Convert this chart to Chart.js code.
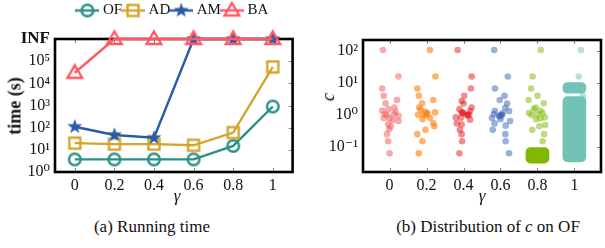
<!DOCTYPE html>
<html lang="en">
<head>
<meta charset="UTF-8">
<title>running time and distribution of c</title>
<script src="https://cdn.jsdelivr.net/npm/chart.js@4.4.1/dist/chart.umd.min.js"></script>
<style>
  body {
    margin: 0;
    width: 605px;
    height: 248px;
    background: #fff;
    position: relative;
    overflow: hidden;
    font-family: "Liberation Serif", "DejaVu Serif", serif;
    color: #111;
  }
  canvas { position: absolute; top: 0; }
  .lbl { position: absolute; transform: translate(-50%, -50%); white-space: nowrap; }
  .rot { transform: translate(-50%, -50%) rotate(-90deg); }
</style>
</head>
<body>
<canvas id="timeChart" width="302" height="200" style="left:0;width:302px;height:200px"></canvas>
<canvas id="cChart" width="303" height="200" style="left:302px;width:303px;height:200px"></canvas>
<div class="lbl rot" style="left:15px;top:106px;font-size:18px;font-weight:bold">time (s)</div>
<div class="lbl rot" style="left:328px;top:97px;font-size:19px;font-style:italic">c</div>
<div class="lbl" style="left:177px;top:196px;font-size:17px;font-style:italic">γ</div>
<div class="lbl" style="left:482px;top:196px;font-size:17px;font-style:italic">γ</div>
<div class="lbl" style="left:152px;top:227px;font-size:17px">(a) Running time</div>
<div class="lbl" style="left:488px;top:227px;font-size:17px">(b) Distribution of <i>c</i> on OF</div>

<script>
  const FONT = '"Liberation Serif", "DejaVu Serif", serif';

  // (a) running time, INF plotted at the top of the axis
  const INF = 1e6;
  const gammas = [0, 0.2, 0.4, 0.6, 0.8, 1];
  const gammaLabels = ['0', '0.2', '0.4', '0.6', '0.8', '1'];
  const timeOF = [3.7, 3.7, 3.7, 3.7, 15, 900];
  const timeAD = [20, 18, 18, 16, 60, 55000];
  const timeAM = [110, 47, 35, INF, INF, INF];
  const timeBA = [30000, INF, INF, INF, INF, INF];
  const timeTicks = [1, 10, 100, 1e3, 1e4, 1e5, INF];
  const timeTickLabels = ['10⁰', '10¹', '10²', '10³', '10⁴', '10⁵', 'INF'];

  // (b) distribution of c, jitter is the horizontal offset
  const jit0 = [-0.18, 0.24, -0.2, -0.16, 0.2, -0.11, 0.13, -0.2, -0.03, 0.16, -0.13, -0.07, 0.11, 0.24, -0.16, 0.0, 0.24, 0.09, -0.04, 0.03, -0.01, -0.07, -0.04, 0.0];
  const val0 = [105, 15.7, 6.6, 3.9, 2.9, 2.3, 1.7, 1.33, 1.5, 1.24, 1.05, 0.98, 1.03, 0.93, 0.8, 0.77, 0.64, 0.68, 0.51, 0.44, 0.36, 0.25, 0.15, 0.063];
  const jit1 = [0.09, 0.24, -0.25, -0.21, 0.18, -0.12, -0.2, -0.16, -0.03, 0.23, -0.23, -0.07, 0.02, -0.11, 0.09, 0.18, 0.21, -0.03, -0.25, -0.11, -0.21, 0.0];
  const val1 = [105, 15.7, 6.6, 3.9, 2.9, 2.3, 1.7, 1.43, 1.24, 1.19, 1.0, 0.98, 1.13, 0.73, 0.81, 0.55, 0.44, 0.34, 0.25, 0.15, 0.063, 1.03];
  const jit2 = [-0.16, 0.22, 0.2, 0.02, -0.05, 0, 0.22, -0.11, 0.18, -0.05, 0.1, 0.15, -0.21, -0.07, 0.18, -0.18, -0.05, -0.1, -0.05, -0.04, -0.11, 0.0, 0.12, -0.03];
  const val2 = [105, 15.7, 6.6, 3.9, 2.7, 2.26, 1.7, 1.5, 1.33, 1.19, 0.98, 1.03, 0.83, 0.81, 0.7, 0.54, 0.5, 0.34, 0.25, 0.15, 0.063, 1.13, 0.95, 1.15];
  const jit3 = [-0.17, 0.2, -0.15, 0.11, -0.02, 0.18, 0.13, 0.23, -0.15, 0.06, -0.18, -0.04, 0.02, -0.23, 0, 0.26, -0.16, 0.14, -0.21, 0.13, 0.14, 0.23, -0.02, 0.04];
  const val3 = [105, 15.7, 6.6, 3.9, 2.9, 2.26, 1.65, 1.3, 1.33, 1.13, 1.05, 0.93, 0.98, 0.79, 0.73, 0.64, 0.54, 0.46, 0.34, 0.25, 0.15, 0.063, 0.9, 1.0];
  const jit4 = [0.09, -0.13, -0.17, 0, -0.24, 0.17, -0.05, -0.1, 0.08, -0.23, 0.14, -0.16, 0, 0.2, -0.04, 0.08, 0.21, 0.05, -0.14, 0.18, 0.14];
  const val4 = [105, 15.7, 6.6, 3.9, 2.9, 2.3, 1.7, 1.5, 1.33, 1.13, 1.13, 0.98, 1.03, 0.83, 0.73, 0.77, 0.48, 0.44, 0.34, 0.25, 0.15];
  const jit5 = [0.18, 0.12, 0.23];
  const val5 = [105, 15.7, 3.9];
  // ranges where the points pile up into a solid block
  const denseX = [4, 5, 5];
  const denseLo = [0.031, 0.034, 4.7];
  const denseHi = [0.096, 3.7, 10.2];
  const cTicks = [0.1, 1, 10, 100];
  const cTickLabels = ['10⁻¹', '10⁰', '10¹', '10²'];

  const markerCanvas = (shape, color, legend) => {
    const c = document.createElement('canvas');
    c.width = legend ? 24 : 20;
    c.height = 20;
    const g = c.getContext('2d');
    const cx = c.width / 2, cy = 10;
    g.strokeStyle = color;
    g.fillStyle = color;
    g.lineWidth = 2.4;
    if (legend) {
      g.beginPath();
      g.moveTo(0, cy);
      g.lineTo(c.width, cy);
      g.stroke();
    }
    g.beginPath();
    if (shape === 'circle') {
      g.arc(cx, cy, 5.8, 0, Math.PI * 2);
      g.stroke();
    } else if (shape === 'square') {
      g.strokeRect(cx - 5.5, cy - 5.5, 11, 11);
    } else if (shape === 'triangle') {
      g.moveTo(cx, cy - 7.5);
      g.lineTo(cx + 7.3, cy + 5);
      g.lineTo(cx - 7.3, cy + 5);
      g.closePath();
      g.stroke();
    } else if (shape === 'star') {
      for (let k = 0; k < 10; k++) {
        const r = k % 2 ? 3.2 : 7.8;
        const a = -Math.PI / 2 + k * Math.PI / 5;
        g.lineTo(cx + r * Math.cos(a), cy + r * Math.sin(a));
      }
      g.closePath();
      g.fill();
    }
    return c;
  };

  // thick box round the plot plus the small inward ticks
  const frame = {
    id: 'frame',
    beforeDatasetsDraw(chart) {
      const { ctx, chartArea: a, scales } = chart;
      ctx.save();
      ctx.strokeStyle = '#888';
      ctx.lineWidth = 1;
      ctx.beginPath();
      scales.x.ticks.forEach((t) => {
        const px = Math.round(scales.x.getPixelForValue(t.value)) + 0.5;
        ctx.moveTo(px, a.bottom);
        ctx.lineTo(px, a.bottom - 4);
        ctx.moveTo(px, a.top);
        ctx.lineTo(px, a.top + 4);
      });
      scales.y.ticks.forEach((t) => {
        const py = Math.round(scales.y.getPixelForValue(t.value)) + 0.5;
        ctx.moveTo(a.right, py);
        ctx.lineTo(a.right - 4, py);
      });
      ctx.stroke();
      ctx.strokeStyle = '#000';
      ctx.lineWidth = 2.6;
      ctx.strokeRect(a.left, a.top, a.right - a.left, a.bottom - a.top);
      ctx.restore();
    }
  };

  const series = [
    { label: 'OF', values: timeOF, color: '#2a8f86', shape: 'circle', order: 3 },
    { label: 'AD', values: timeAD, color: '#d5a52b', shape: 'square', order: 2 },
    { label: 'AM', values: timeAM, color: '#2a5ba8', shape: 'star', order: 1 },
    { label: 'BA', values: timeBA, color: '#ff5a64', shape: 'triangle', order: 0 }
  ];
  const legendIcons = series.map((s) => markerCanvas(s.shape, s.color, true));

  new Chart(document.getElementById('timeChart'), {
    type: 'line',
    data: {
      datasets: series.map((s) => ({
        label: s.label,
        data: gammas.map((g, i) => ({ x: g, y: s.values[i] })),
        borderColor: s.color,
        backgroundColor: s.color,
        borderWidth: 2.4,
        pointStyle: markerCanvas(s.shape, s.color, false),
        pointRadius: 7,
        clip: false,
        order: s.order,
        tension: 0
      }))
    },
    options: {
      responsive: false,
      animation: false,
      layout: { padding: { left: 0, right: 4, top: 0, bottom: 0 } },
      plugins: {
        tooltip: { enabled: false },
        legend: {
          position: 'top',
          fullSize: false,
          labels: {
            usePointStyle: true,
            pointStyleWidth: 16,
            padding: 3,
            color: '#111',
            font: { family: FONT, size: 15 },
            generateLabels: (chart) => chart.data.datasets.map((d, i) => ({
              text: d.label,
              pointStyle: legendIcons[i],
              datasetIndex: i,
              hidden: false,
              lineWidth: 0,
              fillStyle: 'rgba(0,0,0,0)',
              strokeStyle: 'rgba(0,0,0,0)',
              fontColor: '#111'
            }))
          }
        }
      },
      scales: {
        x: {
          type: 'linear',
          offset: false,
          min: -0.1,
          max: 1.1,
          afterBuildTicks: (s) => { s.ticks = gammas.map((v) => ({ value: v })); },
          afterFit: (s) => { s.height = 28; },
          grid: { display: false, drawTicks: false },
          border: { display: false },
          ticks: {
            padding: 4,
            color: '#111',
            maxRotation: 0,
            autoSkip: false,
            font: { family: FONT, size: 16 },
            callback: (v, i) => gammaLabels[i]
          }
        },
        top: {
          type: 'linear',
          position: 'top',
          grid: { display: false },
          ticks: { display: false },
          border: { display: false },
          afterFit: (s) => { s.height = 11; }
        },
        y: {
          type: 'logarithmic',
          min: 1,
          max: INF,
          afterBuildTicks: (s) => { s.ticks = timeTicks.map((v) => ({ value: v })); },
          afterFit: (s) => { s.width = 55; },
          grid: { display: false, drawTicks: false },
          border: { display: false },
          ticks: {
            padding: 5,
            color: '#111',
            autoSkip: false,
            font: (c) => (c.tick && c.tick.value === INF)
              ? { family: FONT, size: 17, weight: 'bold' }
              : { family: FONT, size: 16 },
            callback: (v, i) => timeTickLabels[i]
          }
        }
      }
    },
    plugins: [frame]
  });

  const groupJit = [jit0, jit1, jit2, jit3, jit4, jit5];
  const groupVal = [val0, val1, val2, val3, val4, val5];
  const groupColors = [
    'rgba(238,100,100,0.55)',
    'rgba(255,127,14,0.6)',
    'rgba(228,26,28,0.5)',
    'rgba(55,100,180,0.5)',
    'rgba(127,184,0,0.5)',
    'rgba(110,195,180,0.5)'
  ];

  const stripSets = groupJit.map((jit, g) => ({
    type: 'scatter',
    data: jit.map((j, i) => ({ x: g + j, y: groupVal[g][i] })),
    pointRadius: 3.3,
    pointBorderWidth: 0,
    pointBackgroundColor: groupColors[g],
    order: 0
  }));

  new Chart(document.getElementById('cChart'), {
    type: 'scatter',
    data: {
      datasets: [
        {
          type: 'bar',
          data: denseX.map((x, i) => ({ x: x, y: [denseLo[i], denseHi[i]] })),
          backgroundColor: ['rgb(127,184,0)', 'rgb(112,195,181)', 'rgb(112,195,181)'],
          barThickness: 23,
          borderRadius: 5,
          borderSkipped: false,
          grouped: false,
          order: 1
        },
        ...stripSets
      ]
    },
    options: {
      responsive: false,
      animation: false,
      layout: { padding: { left: 0, right: 2, top: 40, bottom: 0 } },
      plugins: { legend: { display: false }, tooltip: { enabled: false } },
      scales: {
        x: {
          type: 'linear',
          offset: false,
          min: -0.72,
          max: 5.72,
          afterBuildTicks: (s) => { s.ticks = gammaLabels.map((l, i) => ({ value: i })); },
          afterFit: (s) => { s.height = 28; },
          grid: { display: false, drawTicks: false, offset: false },
          border: { display: false },
          ticks: {
            padding: 4,
            color: '#111',
            maxRotation: 0,
            autoSkip: false,
            font: { family: FONT, size: 16 },
            callback: (v, i) => gammaLabels[i]
          }
        },
        y: {
          type: 'logarithmic',
          min: 0.0165,
          max: 215,
          afterBuildTicks: (s) => { s.ticks = cTicks.map((v) => ({ value: v })); },
          afterFit: (s) => { s.width = 61; },
          grid: { display: false, drawTicks: false },
          border: { display: false },
          ticks: {
            padding: 5,
            color: '#111',
            autoSkip: false,
            font: { family: FONT, size: 16 },
            callback: (v, i) => cTickLabels[i]
          }
        }
      }
    },
    plugins: [frame]
  });
</script>
</body>
</html>
